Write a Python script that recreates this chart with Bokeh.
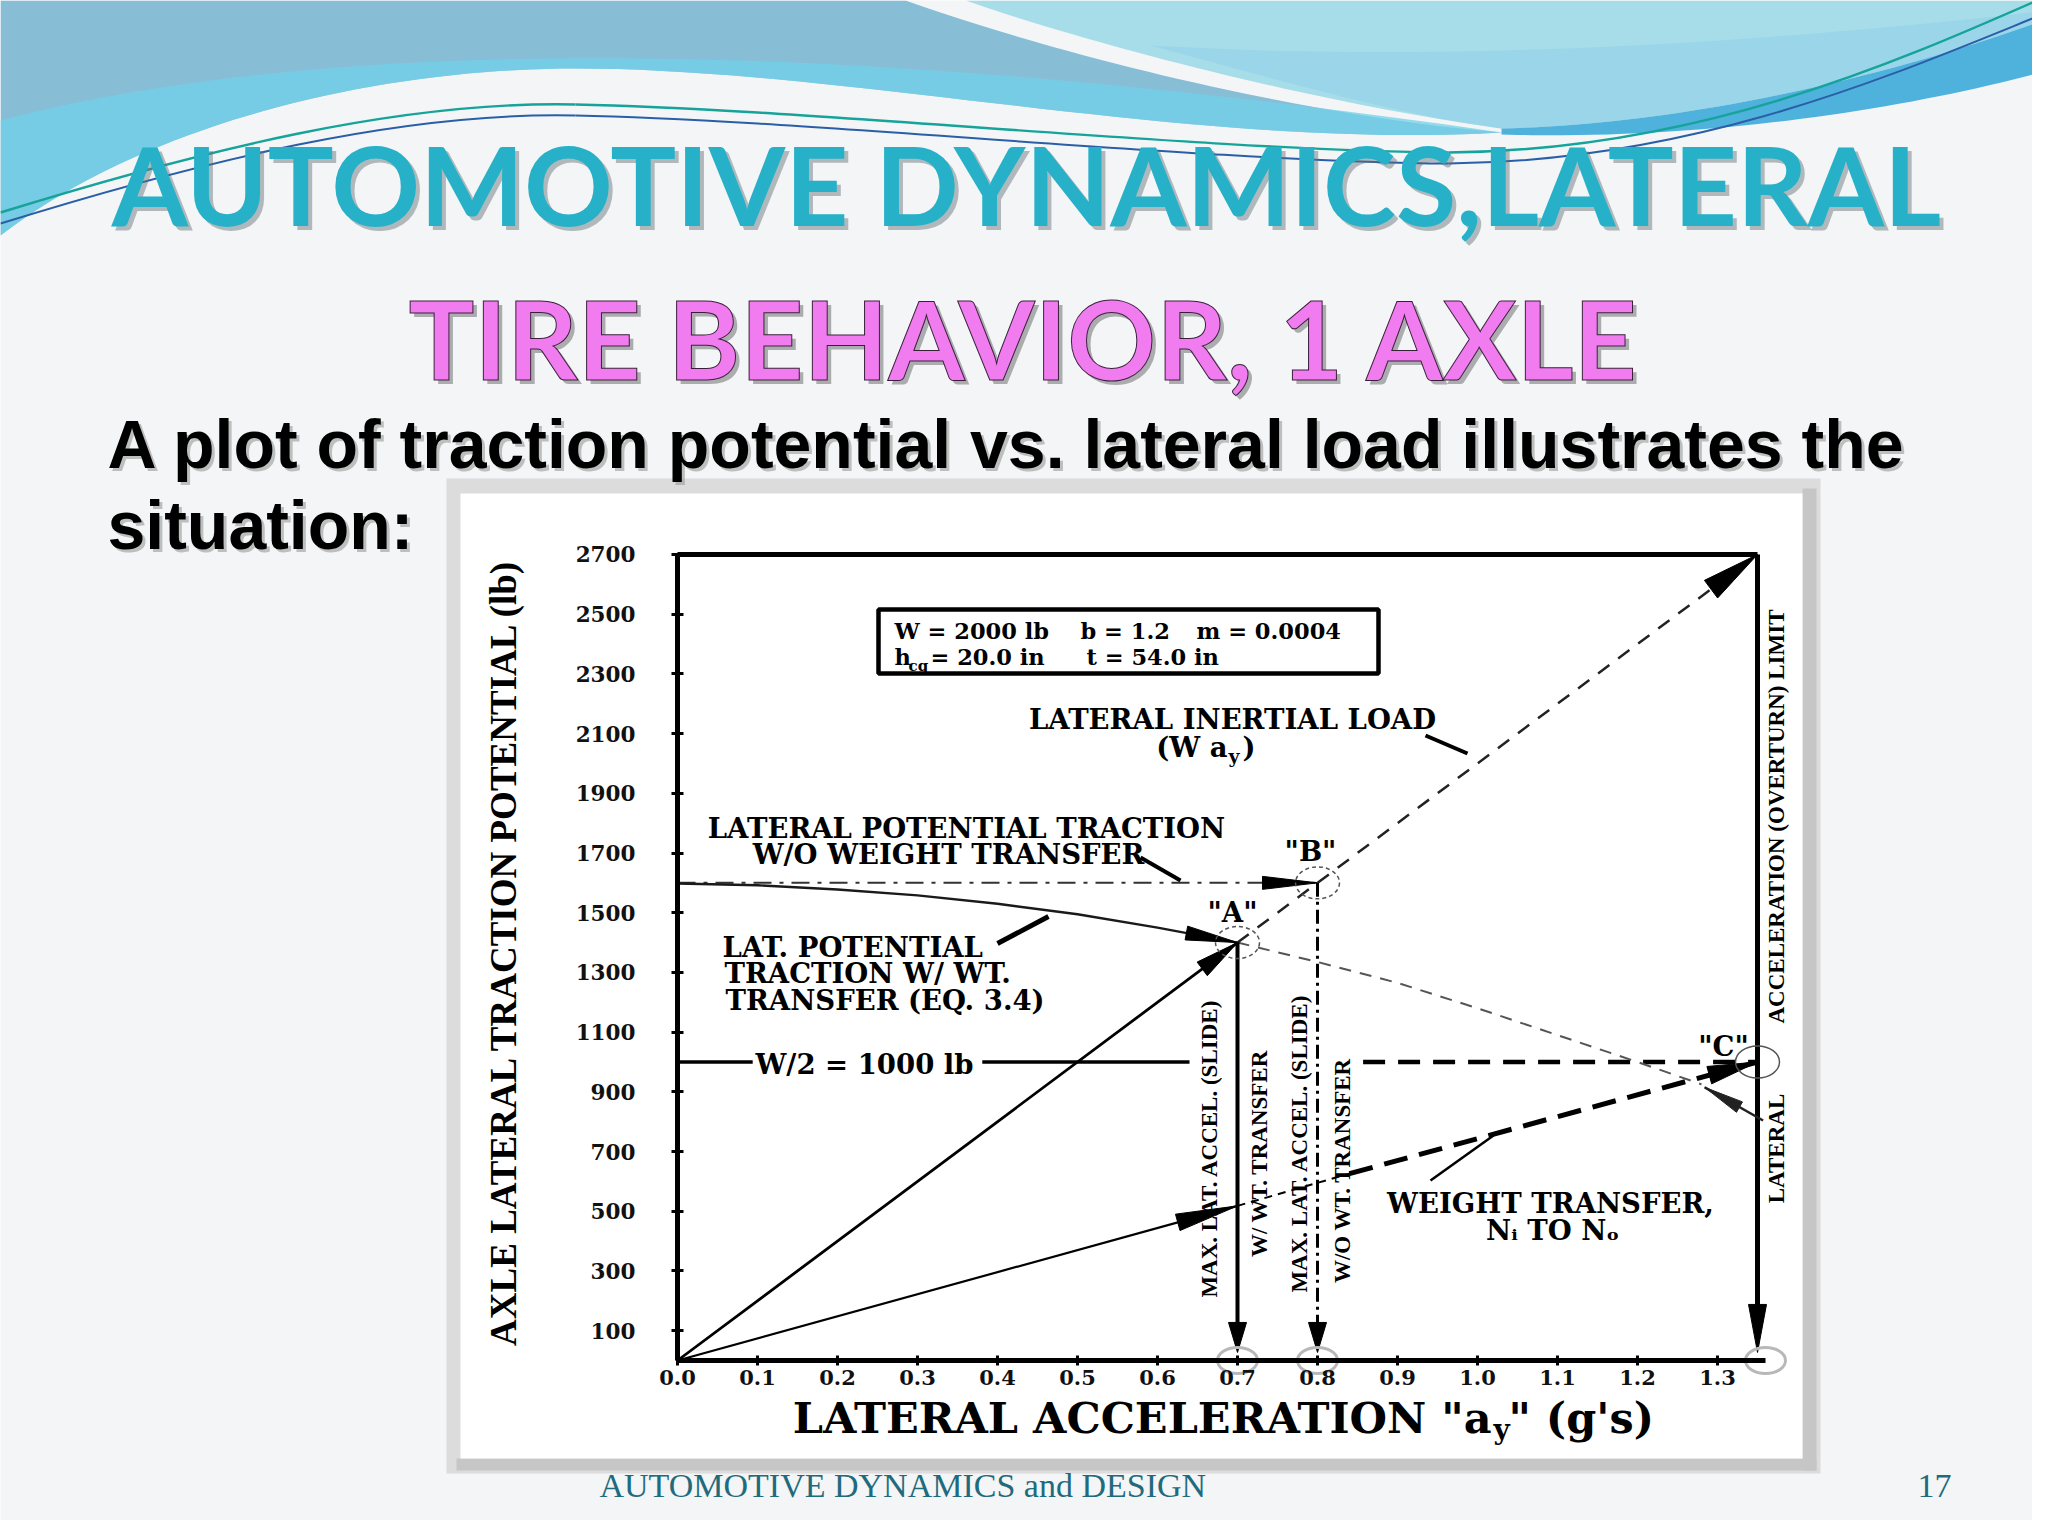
import math
import numpy as np
from bokeh.plotting import figure
from bokeh.models import Range1d, LinearAxis, FixedTicker, PrintfTickFormatter
from bokeh.core.properties import value
from bokeh.embed import file_html
from bokeh.resources import INLINE

# ---------------- chart data ----------------
y_ticks = [100, 300, 500, 700, 900, 1100, 1300, 1500, 1700, 1900, 2100, 2300, 2500, 2700]
x_ticks = [0.0, 0.1, 0.2, 0.3, 0.4, 0.5, 0.6, 0.7, 0.8, 0.9, 1.0, 1.1, 1.2, 1.3]
y_max = 2700          # lb, top of the chart
ay_overturn = 1.35    # g, lateral acceleration (overturn) limit
half_weight = 1000    # lb, W/2

# lateral inertial load  W*ay
inertial_x = [0.0, 0.7]
inertial_y = [0, 1400]
inertial_ext_x = [0.7, 0.8, 1.35]
inertial_ext_y = [1400, 1600, 2700]

# lateral potential traction with weight transfer (Eq. 3.4)
wt_x = [0.0, 0.1, 0.2, 0.3, 0.4, 0.5, 0.6, 0.7]
wt_y = [1598, 1592, 1578, 1558, 1530, 1495, 1450, 1400]
wt_ext_x = [0.7, 0.8, 0.9, 1.0, 1.1, 1.2, 1.28]
wt_ext_y = [1400, 1335, 1265, 1180, 1090, 1000, 925]

# lateral potential traction without weight transfer
nowt_x = [0.0, 0.8]
nowt_y = [1600, 1600]

# weight transfer Ni -> No
xfer_x = [0.0, 0.7]
xfer_y = [0, 518]
xfer_thin_x = [0.7, 0.84]
xfer_thin_y = [518, 626]
xfer_bold_x = [0.84, 1.35]
xfer_bold_y = [626, 1000]

# W/2 = 1000 lb reference line pieces
half_solid_x0 = [0.0, 0.381]
half_solid_x1 = [0.094, 0.64]
half_dash_x = [0.857, 1.35]

slide_wt = 0.7      # max lat. accel. (slide) with wt. transfer
slide_nowt = 0.8    # max lat. accel. (slide) without wt. transfer
pt_A = (0.7, 1400)
pt_B = (0.8, 1600)
pt_C = (1.35, 1000)
limit_ptr_x = [1.357, 1.284]
limit_ptr_y = [804, 915]
arrow_floor = 27

# ---------------- figure / scales ----------------
W, H = 2032, 1520
X0, SX = 677.0, 800.0       # pixel of ay=0, pixels per g
Y0, SY = 1360.0, 0.29852    # pixel of 0 lb, pixels per lb
BG = "#f3f5f6"

p = figure(width=W, height=H,
           x_range=Range1d((0 - X0) / SX, (W - X0) / SX),
           y_range=Range1d((Y0 - H) / SY, Y0 / SY),
           x_axis_type=None, y_axis_type=None,
           output_backend="svg", toolbar_location=None, min_border=0,
           outline_line_color=None, background_fill_color=BG, border_fill_color=BG)
p.extra_x_ranges = {"px": Range1d(0, W)}
p.extra_y_ranges = {"px": Range1d(H, 0)}
PX = dict(x_range_name="px", y_range_name="px")


def bez(p0, c0, c1, p1, n=40):
    t = np.linspace(0, 1, n)
    a = (1 - t) ** 3
    b = 3 * (1 - t) ** 2 * t
    c = 3 * (1 - t) * t ** 2
    d = t ** 3
    xs = a * p0[0] + b * c0[0] + c * c1[0] + d * p1[0]
    ys = a * p0[1] + b * c0[1] + c * c1[1] + d * p1[1]
    return list(xs), list(ys)


def poly(*parts):
    xs, ys = [], []
    for part in parts:
        if isinstance(part, tuple) and len(part) == 2 and not isinstance(part[0], list):
            xs.append(part[0]); ys.append(part[1])
        else:
            xs += part[0]; ys += part[1]
    return xs, ys


# ---------------- slide decoration (top waves) ----------------
wave_r = bez((1501, 132), (1200, 150), (850, 68), (575, 68))
wave_l = bez((575, 68), (380, 68), (150, 120), (0, 235))
rib_low = bez((905, 0), (1060, 55), (1300, 115), (1501, 132))
xs, ys = poly((0, 0), rib_low, wave_r, wave_l)
p.patch(xs, ys, fill_color="#88bdd6", line_color=None, **PX)

cy_top = bez((0, 120), (300, 40), (800, 30), (1501, 132))
xs, ys = poly(cy_top, wave_r, wave_l)
p.patch(xs, ys, fill_color="#70d2e8", fill_alpha=0.75, line_color=None, **PX)

light_low = bez((2048, 18), (1850, 90), (1650, 125), (1501, 128))
rib_up = bez((1501, 128), (1300, 100), (1080, 40), (965, 0))
xs, ys = poly((965, 0), (2048, 0), light_low, rib_up)
p.patch(xs, ys, fill_color="#a6dde8", line_color=None, **PX)
xs, ys = poly(bez((1150, 45), (1400, 60), (1700, 50), (2048, 10)), light_low,
              bez((1501, 128), (1400, 115), (1280, 80), (1150, 45)))
p.patch(xs, ys, fill_color="#8ccbec", fill_alpha=0.45, line_color=None, **PX)

rb_up = bez((1501, 128), (1650, 125), (1850, 90), (2048, 18))
rb_lo = bez((2048, 70), (1900, 110), (1700, 140), (1501, 134))
xs, ys = poly(rb_up, rb_lo)
p.patch(xs, ys, fill_color="#4fb2dc", line_color=None, **PX)

for col, dy, w in [("#16a39a", 0, 2.4), ("#2a5fa8", 11, 2.0)]:
    p.bezier(x0=[0, 575, 1448], y0=[212 + dy, 104 + dy, 152 + dy],
             x1=[575, 1448, 2048], y1=[104 + dy, 152 + dy, -5 + dy * 1.5],
             cx0=[200, 800, 1700], cy0=[150 + dy, 108 + dy, 150 + dy],
             cx1=[400, 1200, 1900], cy1=[100 + dy, 150 + dy, 60 + dy],
             line_color=col, line_width=w, **PX)


def T(x, y, s, size, font="DejaVu Serif", style="bold", color="black",
      align="left", baseline="middle", angle=0.0, alpha=1.0, **kw):
    return p.text(x=[x], y=[y], text=[s], text_font=value(font), text_font_style=style,
                  text_font_size=value(f"{size}px"), text_color=color, text_alpha=alpha,
                  text_align=align, text_baseline=baseline, angle=angle, **PX, **kw)


# ---------------- chart picture frame (drawn under the texts) ----------------
p.quad(left=[446], right=[1820], top=[478], bottom=[1473], fill_color="#dcdcdc", line_color=None, **PX)
p.quad(left=[1802], right=[1816], top=[488], bottom=[1470], fill_color="#c6c6c6", line_color=None, **PX)
p.quad(left=[456], right=[1816], top=[1458], bottom=[1470], fill_color="#c6c6c6", line_color=None, **PX)
p.quad(left=[460], right=[1802], top=[493], bottom=[1458], fill_color="white", line_color=None, **PX)

# ---------------- slide titles ----------------
T(1030, 186, "AUTOMOTIVE DYNAMICS,LATERAL", 110, font="Lato", color="#5f6f75", align="center", alpha=0.45)
T(1026, 182, "AUTOMOTIVE DYNAMICS,LATERAL", 110, font="Lato", color="#27b1c9", align="center")
T(1028, 340, "TIRE BEHAVIOR, 1 AXLE", 110, font="Lato", color="#555555", align="center", alpha=0.45)
try:
    T(1024, 336, "TIRE BEHAVIOR, 1 AXLE", 110, font="Lato", color="#f07cf0", align="center",
      text_outline_color="#3b1d3b")
except Exception:
    T(1024, 336, "TIRE BEHAVIOR, 1 AXLE", 110, font="Lato", color="#f07cf0", align="center")

T(110, 446, "A plot of traction potential vs. lateral load illustrates the", 68,
  font="Liberation Sans", color="#9a9a9a", alpha=0.6)
T(107, 443, "A plot of traction potential vs. lateral load illustrates the", 68,
  font="Liberation Sans", color="black")
T(110, 527, "situation:", 68, font="Liberation Sans", color="#9a9a9a", alpha=0.6)
T(107, 524, "situation:", 68, font="Liberation Sans", color="black")

T(599, 1485, "AUTOMOTIVE DYNAMICS and DESIGN", 34, font="Liberation Serif", style="normal", color="#1f6b7d")
T(1934, 1485, "17", 34, font="Liberation Serif", style="normal", color="#1f6b7d", align="center")

# parameter box
p.quad(left=[878], right=[1378], top=[609], bottom=[673], fill_color="white",
       line_color="black", line_width=4.5, **PX)
T(894, 630, "W = 2000 lb", 22.5)
T(1080, 630, "b = 1.2", 22.5)
T(1196, 630, "m = 0.0004", 22.5)
T(894, 656, "h", 22.5)
T(908, 665, "cg", 15)
T(930, 656, "= 20.0 in", 22.5)
T(1086, 656, "t = 54.0 in", 22.5)


# ---------------- chart marks (data coordinates) ----------------
def head(tip, frm, L, Wd, color="black"):
    ux = (tip[0] - frm[0]) * SX
    uy = (tip[1] - frm[1]) * SY
    n = math.hypot(ux, uy)
    ux, uy = ux / n, uy / n
    bx, by = tip[0] * SX - L * ux, tip[1] * SY - L * uy
    nx, ny = -uy, ux
    xs = [tip[0], (bx + Wd / 2 * nx) / SX, (bx - Wd / 2 * nx) / SX]
    ys = [tip[1], (by + Wd / 2 * ny) / SY, (by - Wd / 2 * ny) / SY]
    p.patch(xs, ys, fill_color=color, line_color=color, line_width=1)


# frame top + overturn limit
p.line([0, ay_overturn], [y_max, y_max], line_color="black", line_width=5)
p.line([ay_overturn, ay_overturn], [y_max, arrow_floor + 100], line_color="black", line_width=5)
head((ay_overturn, arrow_floor), (ay_overturn, 1000), 48, 18)

# W/2 line
p.segment(x0=half_solid_x0, y0=[half_weight] * 2, x1=half_solid_x1, y1=[half_weight] * 2,
          line_color="black", line_width=3.5)
p.line(half_dash_x, [half_weight] * 2, line_color="black", line_width=4.5, line_dash="22 13")

# no weight transfer potential
p.line(nowt_x, nowt_y, line_color="#333333", line_width=2, line_dash="18 8 4 8")
head(pt_B, (0.0, 1600), 55, 13)

# curve with weight transfer
p.line(wt_x, wt_y, line_color="#1a1a1a", line_width=2.4)
p.line(wt_ext_x, wt_ext_y, line_color="#555555", line_width=2, line_dash="12 9")
head(pt_A, (wt_x[-2], wt_y[-2]), 52, 14)

# inertial load
p.line(inertial_x, inertial_y, line_color="black", line_width=2.8)
head(pt_A, (0, 0), 44, 17)
p.line(inertial_ext_x, inertial_ext_y, line_color="#222222", line_width=2.5, line_dash="14 11")
head((inertial_ext_x[-1], inertial_ext_y[-1]), (inertial_ext_x[-2], inertial_ext_y[-2]), 58, 22)

# weight transfer
p.line(xfer_x, xfer_y, line_color="black", line_width=2.2)
head((xfer_x[-1], xfer_y[-1]), (0, 0), 62, 17)
p.line(xfer_thin_x, xfer_thin_y, line_color="black", line_width=2, line_dash="8 6")
p.line(xfer_bold_x, xfer_bold_y, line_color="black", line_width=5, line_dash="24 12")
head(pt_C, (xfer_bold_x[0], xfer_bold_y[0]), 50, 18)

# slide limits
p.line([slide_wt, slide_wt], [pt_A[1], arrow_floor + 20], line_color="black", line_width=4)
head((slide_wt, arrow_floor), (slide_wt, 600), 30, 18)
p.line([slide_nowt, slide_nowt], [pt_B[1], arrow_floor + 20], line_color="black", line_width=3,
       line_dash="14 5 3 5")
head((slide_nowt, arrow_floor), (slide_nowt, 600), 30, 18)

# pointer into the overturn limit
p.line(limit_ptr_x, limit_ptr_y, line_color="#222222", line_width=2.5)
head((limit_ptr_x[-1], limit_ptr_y[-1]), (limit_ptr_x[0], limit_ptr_y[0]), 40, 12, color="#222222")

# circles around points
p.ellipse(x=[pt_A[0], pt_B[0]], y=[pt_A[1], pt_B[1]], width=44, height=32,
          width_units="screen", height_units="screen", fill_color=None,
          line_color="#555555", line_width=1.5, line_dash="4 3")
p.ellipse(x=[pt_C[0]], y=[pt_C[1]], width=44, height=32, width_units="screen",
          height_units="screen", fill_color=None, line_color="#555555", line_width=1.5)
p.ellipse(x=[slide_wt, slide_nowt, ay_overturn + 0.01], y=[0, 0, 0], width=40, height=26,
          width_units="screen", height_units="screen", fill_color=None,
          line_color="#b8b8b8", line_width=3)

# ---------------- axes ----------------
yax = LinearAxis(fixed_location=0, bounds=(0, y_max), ticker=FixedTicker(ticks=y_ticks),
                 axis_line_width=5, axis_line_color="black",
                 major_tick_line_width=3, major_tick_in=6, major_tick_out=6,
                 minor_tick_line_color=None,
                 major_label_text_font="DejaVu Serif", major_label_text_font_style="bold",
                 major_label_text_font_size="21.5px", major_label_standoff=36,
                 major_label_text_color="#111111")
p.add_layout(yax, "left")
xax = LinearAxis(fixed_location=0, bounds=(0, ay_overturn + 0.01), ticker=FixedTicker(ticks=x_ticks),
                 formatter=PrintfTickFormatter(format="%.1f"),
                 axis_line_width=5, axis_line_color="black",
                 major_tick_line_width=3, major_tick_in=5, major_tick_out=5,
                 minor_tick_line_color=None,
                 major_label_text_font="DejaVu Serif", major_label_text_font_style="bold",
                 major_label_text_font_size="21px", major_label_standoff=4,
                 major_label_text_color="#111111")
p.add_layout(xax, "below")

# axis titles
T(503, 951, "AXLE LATERAL TRACTION POTENTIAL (lb)", 37, font="Liberation Serif",
  align="center", angle=math.pi / 2)
T(1491, 1417, "LATERAL ACCELERATION \"a", 43, align="right")
T(1493, 1429, "y", 28)
T(1508, 1417, "\" (g's)", 43)

# ---------------- chart annotations ----------------
S = 27.5
T(1232, 718, "LATERAL INERTIAL LOAD", S, align="center")
T(1227, 746, "(W a", S, align="right")
T(1228, 755, "y", 19)
T(1242, 746, ")", S)
T(966, 827, "LATERAL POTENTIAL TRACTION", S, align="center")
T(948, 853, "W/O WEIGHT TRANSFER", S, align="center")
T(722, 946, "LAT. POTENTIAL", S)
T(724, 972, "TRACTION W/ WT.", S)
T(725, 999, "TRANSFER (EQ. 3.4)", S)
T(864, 1063, "W/2 = 1000 lb", S, align="center")
T(1232, 911, "\"A\"", S, align="center")
T(1310, 850, "\"B\"", S, align="center")
T(1723, 1045, "\"C\"", S, align="center")
T(1550, 1202, "WEIGHT TRANSFER,", S, align="center")
T(1557, 1229, "N\u1d62 TO  N\u2092", S, align="center")

for (x, y, s) in [(1209, 1148, "MAX. LAT. ACCEL. (SLIDE)"), (1259, 1153, "W/ WT. TRANSFER"),
                  (1299, 1143, "MAX. LAT. ACCEL. (SLIDE)"), (1342, 1170, "W/O WT. TRANSFER"),
                  (1776, 816, "ACCELERATION (OVERTURN) LIMIT"), (1776, 1148, "LATERAL")]:
    T(x, y, s, 23, font="Liberation Serif", align="center", angle=math.pi / 2)

# label leader lines
p.segment(x0=[1425, 1140, 997, 1430], y0=[735, 857, 943, 1180],
          x1=[1467, 1180, 1048, 1493], y1=[753, 880, 916, 1135],
          line_color="black", line_width=[4, 4, 5, 2.5], **PX)

open("out.html", "w").write(file_html(p, INLINE))
